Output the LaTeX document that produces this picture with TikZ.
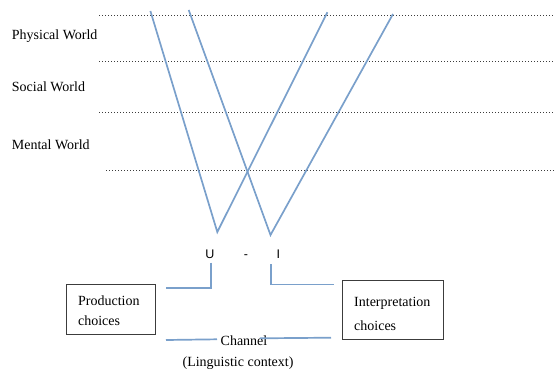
\documentclass[tikz,border=0pt]{standalone}
\usepackage{fontspec}
\setmainfont{Liberation Serif}
\newfontfamily\arialfont{Liberation Sans}
\definecolor{lineblue}{RGB}{122,160,203}
\definecolor{dotgray}{RGB}{60,60,60}
\definecolor{boxgray}{RGB}{60,60,60}
\begin{document}
\begin{tikzpicture}[x=1pt,y=-1pt,
  worldlabel/.style={anchor=base west,inner sep=0pt,font=\fontsize{14}{16}\selectfont},
  serlabel/.style={anchor=base,inner sep=0pt,font=\fontsize{14}{16}\selectfont},
  uilabel/.style={anchor=base,inner sep=0pt,font=\arialfont\fontsize{12.5}{14}\selectfont},
  dotline/.style={dotgray,line width=0.9pt,dash pattern=on 1pt off 2pt},
  blueline/.style={lineblue,line width=1.7pt},
  choicebox/.style={draw=boxgray,line width=0.9pt}]
\useasboundingbox (0,0) rectangle (555,370);
% dotted world separators
\coordinate (d1a) at (99,15);   \coordinate (d1b) at (555,15);
\coordinate (d2a) at (99,61.7); \coordinate (d2b) at (555,61.7);
\coordinate (d3a) at (99,112.7);\coordinate (d3b) at (555,112.7);
\coordinate (d4a) at (106,170.7);\coordinate (d4b) at (555,170.7);
\draw[dotline] (d1a) -- (d1b);
\draw[dotline] (d2a) -- (d2b);
\draw[dotline] (d3a) -- (d3b);
\draw[dotline] (d4a) -- (d4b);
% world labels
\node[worldlabel] (phys) at (11.7,39) {Physical World};
\node[worldlabel] (soc) at (11.7,91.5) {Social World};
\node[worldlabel] (ment) at (11.7,149.5) {Mental World};
% V lines
\coordinate (ta) at (150.4,11);
\coordinate (tb) at (188.7,10);
\coordinate (tc) at (327.4,12.3);
\coordinate (td) at (393,14);
\coordinate (vu) at (217.3,232);
\coordinate (vi) at (270.5,235);
\draw[blueline] (ta) -- (vu) -- (tc);
\draw[blueline] (tb) -- (vi) -- (td);
% U - I
\node[uilabel] (U) at (210,258.3) {U};
\node[uilabel] (dash) at (246,258.3) {-};
\node[uilabel] (I) at (278.3,258.3) {I};
% boxes
\draw[choicebox] (66.5,284.3) rectangle (155.8,334.3);
\node[worldlabel] (prod1) at (77.9,305) {Production};
\node[worldlabel] (prod2) at (77.9,325.7) {choices};
\draw[choicebox] (342.7,280.7) rectangle (443.5,339.3);
\node[worldlabel] (int1) at (354,306.7) {Interpretation};
\node[worldlabel] (int2) at (354,330.7) {choices};
% brackets
\coordinate (lb1) at (211,262.7);
\coordinate (lb2) at (211,287.7);
\coordinate (lb3) at (166,287.7);
\draw[blueline] (lb1) -- (lb2) -- (lb3);
\coordinate (rb1) at (270.7,264.3);
\coordinate (rb2) at (270.7,284.5);
\coordinate (rb3) at (334,284.5);
\draw[blueline] (rb1) -- (rb2) -- (rb3);
% channel
\node[serlabel] (chan) at (244,345) {Channel};
\node[serlabel] (ling) at (238,366.5) {(Linguistic context)};
\coordinate (cl1) at (166,340);
\coordinate (cl2) at (217,339.3);
\coordinate (cr1) at (260,338.3);
\coordinate (cr2) at (331,337.7);
\draw[blueline] (cl1) -- (cl2);
\draw[blueline] (cr1) -- (cr2);
\end{tikzpicture}
\end{document}
